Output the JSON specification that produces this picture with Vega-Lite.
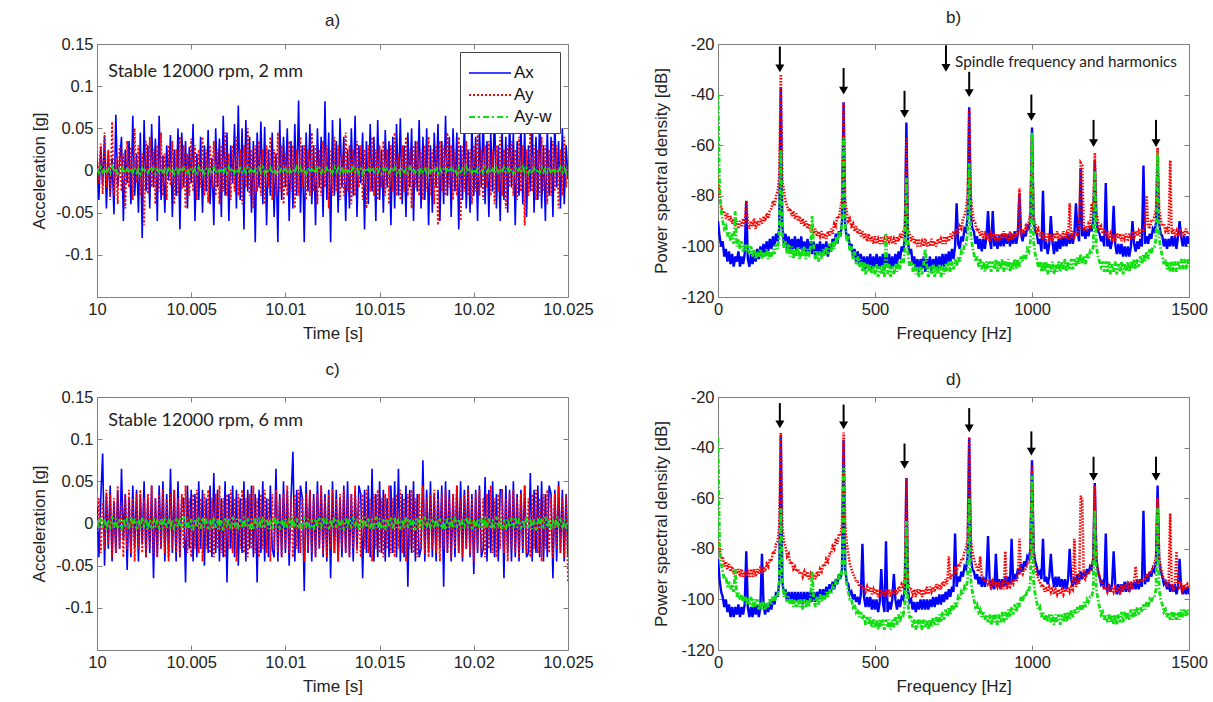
{
"$schema":"https://vega.github.io/schema/vega-lite/v6.json",
"background":"white",
"padding":{"left":29,"top":8,"right":10,"bottom":5},
"config":{
"font":"Liberation Sans",
"view":{"stroke":"#7f7f7f","strokeWidth":1},
"axis":{"grid":false,"domain":false,"tickSize":-5,"tickColor":"#7f7f7f","tickWidth":1,"labelFontSize":16.5,"labelColor":"#222","labelPadding":9,"titleFontSize":17,"titleFontWeight":"normal","titleColor":"#222","labelFont":"Liberation Sans","titleFont":"Liberation Sans","labelFlush":false},
"title":{"fontSize":17,"fontWeight":"normal","font":"Liberation Sans","color":"#222"}
},
"datasets":{
"ta":[
{"t":10.0000,"ax":0.012,"ay":0.02,"ayw":0.002},{"t":10.0001,"ax":-0.035,"ay":-0.015,"ayw":-0.003},{"t":10.0002,"ax":0.028,"ay":0.032,"ayw":0.004},{"t":10.0003,"ax":-0.018,"ay":-0.028,"ayw":-0.002},{"t":10.0004,"ax":0.04,"ay":0.045,"ayw":0.003},{"t":10.0005,"ax":-0.045,"ay":-0.02,"ayw":-0.004},{"t":10.0006,"ax":0.022,"ay":0.025,"ayw":0.002},{"t":10.0007,"ax":-0.03,"ay":-0.035,"ayw":-0.003},{"t":10.0008,"ax":0.015,"ay":0.058,"ayw":0.005},{"t":10.0009,"ax":-0.052,"ay":-0.03,"ayw":-0.002},
{"t":10.0010,"ax":0.066,"ay":0.015,"ayw":0.003},{"t":10.0011,"ax":-0.02,"ay":-0.04,"ayw":-0.004},{"t":10.0012,"ax":0.01,"ay":0.03,"ayw":0.002},{"t":10.0013,"ax":0.04,"ay":-0.025,"ayw":-0.002},{"t":10.0014,"ax":-0.06,"ay":0.02,"ayw":0.004},{"t":10.0015,"ax":0.025,"ay":-0.045,"ayw":-0.003},{"t":10.0016,"ax":-0.015,"ay":0.035,"ayw":0.002},{"t":10.0017,"ax":0.035,"ay":-0.02,"ayw":-0.003},{"t":10.0018,"ax":-0.04,"ay":0.028,"ayw":0.003},{"t":10.0019,"ax":0.065,"ay":-0.035,"ayw":-0.002},
{"t":10.0020,"ax":-0.03,"ay":0.05,"ayw":0.004},{"t":10.0021,"ax":0.02,"ay":-0.015,"ayw":-0.003},{"t":10.0022,"ax":-0.05,"ay":0.03,"ayw":0.002},{"t":10.0023,"ax":0.045,"ay":-0.03,"ayw":-0.004},{"t":10.0024,"ax":-0.08,"ay":0.02,"ayw":0.003},{"t":10.0025,"ax":0.06,"ay":-0.065,"ayw":-0.002},{"t":10.0026,"ax":-0.025,"ay":0.035,"ayw":0.002},{"t":10.0027,"ax":0.03,"ay":-0.028,"ayw":-0.003},{"t":10.0028,"ax":-0.045,"ay":0.04,"ayw":0.004},{"t":10.0029,"ax":0.055,"ay":-0.02,"ayw":-0.002},
{"t":10.0030,"ax":-0.02,"ay":0.025,"ayw":0.003},{"t":10.0031,"ax":0.038,"ay":-0.04,"ayw":-0.004},{"t":10.0032,"ax":-0.06,"ay":0.03,"ayw":0.002},{"t":10.0033,"ax":0.065,"ay":-0.025,"ayw":-0.003},{"t":10.0034,"ax":-0.035,"ay":0.045,"ayw":0.003},{"t":10.0035,"ax":0.018,"ay":-0.03,"ayw":-0.002},{"t":10.0036,"ax":-0.05,"ay":0.02,"ayw":0.004},{"t":10.0037,"ax":0.03,"ay":-0.035,"ayw":-0.003},{"t":10.0038,"ax":-0.012,"ay":0.03,"ayw":0.002},{"t":10.0039,"ax":0.042,"ay":-0.018,"ayw":-0.002},
{"t":10.0040,"ax":-0.055,"ay":0.035,"ayw":0.003},{"t":10.0041,"ax":0.025,"ay":-0.04,"ayw":-0.004},{"t":10.0042,"ax":-0.03,"ay":0.025,"ayw":0.002},{"t":10.0043,"ax":0.05,"ay":-0.03,"ayw":-0.003},{"t":10.0044,"ax":-0.07,"ay":0.04,"ayw":0.004},{"t":10.0045,"ax":0.045,"ay":-0.022,"ayw":-0.002},{"t":10.0046,"ax":-0.02,"ay":0.03,"ayw":0.003},{"t":10.0047,"ax":0.035,"ay":-0.045,"ayw":-0.003},{"t":10.0048,"ax":-0.045,"ay":0.02,"ayw":0.002},{"t":10.0049,"ax":0.028,"ay":-0.03,"ayw":-0.004},
{"t":10.0050,"ax":-0.015,"ay":0.038,"ayw":0.003},{"t":10.0051,"ax":0.055,"ay":-0.025,"ayw":-0.002},{"t":10.0052,"ax":-0.06,"ay":0.03,"ayw":0.002},{"t":10.0053,"ax":0.02,"ay":-0.035,"ayw":-0.003},{"t":10.0054,"ax":-0.035,"ay":0.025,"ayw":0.004},{"t":10.0055,"ax":0.04,"ay":-0.02,"ayw":-0.002},{"t":10.0056,"ax":-0.05,"ay":0.04,"ayw":0.003},{"t":10.0057,"ax":0.03,"ay":-0.03,"ayw":-0.004},{"t":10.0058,"ax":-0.025,"ay":0.025,"ayw":0.002},{"t":10.0059,"ax":0.048,"ay":-0.038,"ayw":-0.003},
{"t":10.0060,"ax":-0.04,"ay":0.03,"ayw":0.003},{"t":10.0061,"ax":0.015,"ay":-0.02,"ayw":-0.002},{"t":10.0062,"ax":-0.065,"ay":0.035,"ayw":0.004},{"t":10.0063,"ax":0.05,"ay":-0.03,"ayw":-0.003},{"t":10.0064,"ax":-0.02,"ay":0.025,"ayw":0.002},{"t":10.0065,"ax":0.038,"ay":-0.04,"ayw":-0.002},{"t":10.0066,"ax":-0.055,"ay":0.03,"ayw":0.003},{"t":10.0067,"ax":0.065,"ay":-0.025,"ayw":-0.004},{"t":10.0068,"ax":-0.03,"ay":0.045,"ayw":0.002},{"t":10.0069,"ax":0.045,"ay":-0.03,"ayw":-0.003},
{"t":10.0070,"ax":-0.06,"ay":0.02,"ayw":0.004},{"t":10.0071,"ax":0.03,"ay":-0.035,"ayw":-0.002},{"t":10.0072,"ax":-0.015,"ay":0.03,"ayw":0.003},{"t":10.0073,"ax":0.055,"ay":-0.025,"ayw":-0.003},{"t":10.0074,"ax":-0.045,"ay":0.04,"ayw":0.002},{"t":10.0075,"ax":0.077,"ay":-0.03,"ayw":-0.004},{"t":10.0076,"ax":-0.035,"ay":0.025,"ayw":0.003},{"t":10.0077,"ax":0.05,"ay":-0.04,"ayw":-0.002},{"t":10.0078,"ax":-0.07,"ay":0.03,"ayw":0.002},{"t":10.0079,"ax":0.06,"ay":-0.02,"ayw":-0.003},
{"t":10.0080,"ax":-0.025,"ay":0.05,"ayw":0.004},{"t":10.0081,"ax":0.04,"ay":-0.03,"ayw":-0.002},{"t":10.0082,"ax":-0.05,"ay":0.025,"ayw":0.003},{"t":10.0083,"ax":0.035,"ay":-0.045,"ayw":-0.004},{"t":10.0084,"ax":-0.085,"ay":0.03,"ayw":0.002},{"t":10.0085,"ax":0.045,"ay":-0.025,"ayw":-0.003},{"t":10.0086,"ax":-0.02,"ay":0.035,"ayw":0.003},{"t":10.0087,"ax":0.058,"ay":-0.03,"ayw":-0.002},{"t":10.0088,"ax":-0.04,"ay":0.025,"ayw":0.004},{"t":10.0089,"ax":0.052,"ay":-0.04,"ayw":-0.003},
{"t":10.0090,"ax":-0.065,"ay":0.03,"ayw":0.002},{"t":10.0091,"ax":0.025,"ay":-0.02,"ayw":-0.002},{"t":10.0092,"ax":-0.03,"ay":0.04,"ayw":0.003},{"t":10.0093,"ax":0.045,"ay":-0.035,"ayw":-0.004},{"t":10.0094,"ax":-0.055,"ay":0.025,"ayw":0.002},{"t":10.0095,"ax":0.02,"ay":-0.03,"ayw":-0.003},{"t":10.0096,"ax":-0.085,"ay":0.045,"ayw":0.004},{"t":10.0097,"ax":0.06,"ay":-0.025,"ayw":-0.002},{"t":10.0098,"ax":-0.035,"ay":0.03,"ayw":0.003},{"t":10.0099,"ax":0.04,"ay":-0.04,"ayw":-0.003},
{"t":10.0100,"ax":-0.02,"ay":0.02,"ayw":0.002},{"t":10.0101,"ax":0.05,"ay":-0.03,"ayw":-0.004},{"t":10.0102,"ax":-0.06,"ay":0.035,"ayw":0.003},{"t":10.0103,"ax":0.035,"ay":-0.025,"ayw":-0.002},{"t":10.0104,"ax":-0.045,"ay":0.03,"ayw":0.002},{"t":10.0105,"ax":0.055,"ay":-0.045,"ayw":-0.003},{"t":10.0106,"ax":-0.03,"ay":0.025,"ayw":0.004},{"t":10.0107,"ax":0.083,"ay":-0.03,"ayw":-0.002},{"t":10.0108,"ax":-0.05,"ay":0.04,"ayw":0.003},{"t":10.0109,"ax":0.03,"ay":-0.02,"ayw":-0.003},
{"t":10.0110,"ax":-0.085,"ay":0.03,"ayw":0.002},{"t":10.0111,"ax":0.045,"ay":-0.035,"ayw":-0.004},{"t":10.0112,"ax":-0.025,"ay":0.025,"ayw":0.003},{"t":10.0113,"ax":0.055,"ay":-0.03,"ayw":-0.002},{"t":10.0114,"ax":-0.04,"ay":0.045,"ayw":0.002},{"t":10.0115,"ax":0.03,"ay":-0.025,"ayw":-0.003},{"t":10.0116,"ax":-0.065,"ay":0.03,"ayw":0.004},{"t":10.0117,"ax":0.05,"ay":-0.04,"ayw":-0.002},{"t":10.0118,"ax":-0.02,"ay":0.025,"ayw":0.003},{"t":10.0119,"ax":0.04,"ay":-0.03,"ayw":-0.003},
{"t":10.0120,"ax":-0.055,"ay":0.035,"ayw":0.002},{"t":10.0121,"ax":0.082,"ay":-0.02,"ayw":-0.004},{"t":10.0122,"ax":-0.035,"ay":0.03,"ayw":0.003},{"t":10.0123,"ax":0.045,"ay":-0.045,"ayw":-0.002},{"t":10.0124,"ax":-0.085,"ay":0.025,"ayw":0.002},{"t":10.0125,"ax":0.06,"ay":-0.03,"ayw":-0.003},{"t":10.0126,"ax":-0.03,"ay":0.04,"ayw":0.004},{"t":10.0127,"ax":0.035,"ay":-0.025,"ayw":-0.002},{"t":10.0128,"ax":-0.05,"ay":0.03,"ayw":0.003},{"t":10.0129,"ax":0.062,"ay":-0.035,"ayw":-0.003},
{"t":10.0130,"ax":-0.02,"ay":0.02,"ayw":0.002},{"t":10.0131,"ax":0.04,"ay":-0.03,"ayw":-0.004},{"t":10.0132,"ax":-0.06,"ay":0.045,"ayw":0.003},{"t":10.0133,"ax":0.025,"ay":-0.025,"ayw":-0.002},{"t":10.0134,"ax":-0.045,"ay":0.03,"ayw":0.002},{"t":10.0135,"ax":0.05,"ay":-0.04,"ayw":-0.003},{"t":10.0136,"ax":-0.03,"ay":0.025,"ayw":0.004},{"t":10.0137,"ax":0.065,"ay":-0.03,"ayw":-0.002},{"t":10.0138,"ax":-0.055,"ay":0.035,"ayw":0.003},{"t":10.0139,"ax":0.03,"ay":-0.02,"ayw":-0.003},
{"t":10.0140,"ax":-0.015,"ay":0.03,"ayw":0.002},{"t":10.0141,"ax":0.045,"ay":-0.035,"ayw":-0.004},{"t":10.0142,"ax":-0.07,"ay":0.025,"ayw":0.003},{"t":10.0143,"ax":0.035,"ay":-0.045,"ayw":-0.002},{"t":10.0144,"ax":-0.04,"ay":0.03,"ayw":0.002},{"t":10.0145,"ax":0.055,"ay":-0.025,"ayw":-0.003},{"t":10.0146,"ax":-0.025,"ay":0.04,"ayw":0.004},{"t":10.0147,"ax":0.04,"ay":-0.03,"ayw":-0.002},{"t":10.0148,"ax":-0.06,"ay":0.025,"ayw":0.003},{"t":10.0149,"ax":0.06,"ay":-0.035,"ayw":-0.003},
{"t":10.0150,"ax":-0.035,"ay":0.03,"ayw":0.002},{"t":10.0151,"ax":0.025,"ay":-0.02,"ayw":-0.004},{"t":10.0152,"ax":-0.05,"ay":0.035,"ayw":0.003},{"t":10.0153,"ax":0.048,"ay":-0.03,"ayw":-0.002},{"t":10.0154,"ax":-0.02,"ay":0.025,"ayw":0.002},{"t":10.0155,"ax":0.035,"ay":-0.04,"ayw":-0.003},{"t":10.0156,"ax":-0.065,"ay":0.03,"ayw":0.004},{"t":10.0157,"ax":0.04,"ay":-0.025,"ayw":-0.002},{"t":10.0158,"ax":-0.045,"ay":0.045,"ayw":0.003},{"t":10.0159,"ax":0.055,"ay":-0.03,"ayw":-0.003},
{"t":10.0160,"ax":-0.03,"ay":0.02,"ayw":0.002},{"t":10.0161,"ax":0.062,"ay":-0.035,"ayw":-0.004},{"t":10.0162,"ax":-0.04,"ay":0.03,"ayw":0.003},{"t":10.0163,"ax":0.03,"ay":-0.025,"ayw":-0.002},{"t":10.0164,"ax":-0.055,"ay":0.04,"ayw":0.002},{"t":10.0165,"ax":0.045,"ay":-0.03,"ayw":-0.003},{"t":10.0166,"ax":-0.02,"ay":0.025,"ayw":0.004},{"t":10.0167,"ax":0.05,"ay":-0.045,"ayw":-0.002},{"t":10.0168,"ax":-0.06,"ay":0.03,"ayw":0.003},{"t":10.0169,"ax":0.035,"ay":-0.02,"ayw":-0.003},
{"t":10.0170,"ax":-0.025,"ay":0.035,"ayw":0.002},{"t":10.0171,"ax":0.06,"ay":-0.03,"ayw":-0.004},{"t":10.0172,"ax":-0.045,"ay":0.025,"ayw":0.003},{"t":10.0173,"ax":0.04,"ay":-0.035,"ayw":-0.002},{"t":10.0174,"ax":-0.035,"ay":0.03,"ayw":0.002},{"t":10.0175,"ax":0.05,"ay":-0.025,"ayw":-0.003},{"t":10.0176,"ax":-0.065,"ay":0.04,"ayw":0.004},{"t":10.0177,"ax":0.03,"ay":-0.03,"ayw":-0.002},{"t":10.0178,"ax":-0.05,"ay":0.025,"ayw":0.003},{"t":10.0179,"ax":0.045,"ay":-0.04,"ayw":-0.003},
{"t":10.0180,"ax":-0.02,"ay":0.03,"ayw":0.002},{"t":10.0181,"ax":0.055,"ay":-0.065,"ayw":-0.004},{"t":10.0182,"ax":-0.06,"ay":0.035,"ayw":0.003},{"t":10.0183,"ax":0.035,"ay":-0.025,"ayw":-0.002},{"t":10.0184,"ax":-0.04,"ay":0.03,"ayw":0.002},{"t":10.0185,"ax":0.065,"ay":-0.03,"ayw":-0.003},{"t":10.0186,"ax":-0.03,"ay":0.045,"ayw":0.004},{"t":10.0187,"ax":0.04,"ay":-0.02,"ayw":-0.002},{"t":10.0188,"ax":-0.055,"ay":0.03,"ayw":0.003},{"t":10.0189,"ax":0.05,"ay":-0.035,"ayw":-0.003},
{"t":10.0190,"ax":-0.025,"ay":0.025,"ayw":0.002},{"t":10.0191,"ax":0.045,"ay":-0.03,"ayw":-0.004},{"t":10.0192,"ax":-0.07,"ay":0.04,"ayw":0.003},{"t":10.0193,"ax":0.03,"ay":-0.06,"ayw":-0.002},{"t":10.0194,"ax":-0.035,"ay":0.03,"ayw":0.002},{"t":10.0195,"ax":0.06,"ay":-0.025,"ayw":-0.003},{"t":10.0196,"ax":-0.045,"ay":0.035,"ayw":0.004},{"t":10.0197,"ax":0.025,"ay":-0.03,"ayw":-0.002},{"t":10.0198,"ax":-0.05,"ay":0.025,"ayw":0.003},{"t":10.0199,"ax":0.055,"ay":-0.04,"ayw":-0.003},
{"t":10.0200,"ax":-0.03,"ay":0.03,"ayw":0.002},{"t":10.0201,"ax":0.04,"ay":-0.025,"ayw":-0.004},{"t":10.0202,"ax":-0.06,"ay":0.045,"ayw":0.003},{"t":10.0203,"ax":0.05,"ay":-0.03,"ayw":-0.002},{"t":10.0204,"ax":-0.02,"ay":0.025,"ayw":0.002},{"t":10.0205,"ax":0.065,"ay":-0.035,"ayw":-0.003},{"t":10.0206,"ax":-0.04,"ay":0.03,"ayw":0.004},{"t":10.0207,"ax":0.035,"ay":-0.02,"ayw":-0.002},{"t":10.0208,"ax":-0.055,"ay":0.035,"ayw":0.003},{"t":10.0209,"ax":0.045,"ay":-0.03,"ayw":-0.003},
{"t":10.0210,"ax":-0.025,"ay":0.025,"ayw":0.002},{"t":10.0211,"ax":0.075,"ay":-0.04,"ayw":-0.004},{"t":10.0212,"ax":-0.045,"ay":0.03,"ayw":0.003},{"t":10.0213,"ax":0.03,"ay":-0.025,"ayw":-0.002},{"t":10.0214,"ax":-0.06,"ay":0.04,"ayw":0.002},{"t":10.0215,"ax":0.05,"ay":-0.03,"ayw":-0.003},{"t":10.0216,"ax":-0.035,"ay":0.025,"ayw":0.004},{"t":10.0217,"ax":0.04,"ay":-0.045,"ayw":-0.002},{"t":10.0218,"ax":-0.05,"ay":0.03,"ayw":0.003},{"t":10.0219,"ax":0.06,"ay":-0.02,"ayw":-0.003},
{"t":10.0220,"ax":-0.02,"ay":0.035,"ayw":0.002},{"t":10.0221,"ax":0.045,"ay":-0.03,"ayw":-0.004},{"t":10.0222,"ax":-0.065,"ay":0.025,"ayw":0.003},{"t":10.0223,"ax":0.035,"ay":-0.035,"ayw":-0.002},{"t":10.0224,"ax":-0.03,"ay":0.04,"ayw":0.002},{"t":10.0225,"ax":0.055,"ay":-0.025,"ayw":-0.003},{"t":10.0226,"ax":-0.04,"ay":0.03,"ayw":0.004},{"t":10.0227,"ax":0.05,"ay":-0.065,"ayw":-0.002},{"t":10.0228,"ax":-0.055,"ay":0.025,"ayw":0.003},{"t":10.0229,"ax":0.03,"ay":-0.03,"ayw":-0.003},
{"t":10.0230,"ax":-0.025,"ay":0.045,"ayw":0.002},{"t":10.0231,"ax":0.062,"ay":-0.025,"ayw":-0.004},{"t":10.0232,"ax":-0.05,"ay":0.03,"ayw":0.003},{"t":10.0233,"ax":0.04,"ay":-0.035,"ayw":-0.002},{"t":10.0234,"ax":-0.035,"ay":0.025,"ayw":0.002},{"t":10.0235,"ax":0.065,"ay":-0.03,"ayw":-0.003},{"t":10.0236,"ax":-0.045,"ay":0.04,"ayw":0.004},{"t":10.0237,"ax":0.03,"ay":-0.025,"ayw":-0.002},{"t":10.0238,"ax":-0.06,"ay":0.03,"ayw":0.003},{"t":10.0239,"ax":0.05,"ay":-0.04,"ayw":-0.003},
{"t":10.0240,"ax":-0.03,"ay":0.025,"ayw":0.002},{"t":10.0241,"ax":0.04,"ay":-0.03,"ayw":-0.004},{"t":10.0242,"ax":-0.055,"ay":0.035,"ayw":0.003},{"t":10.0243,"ax":0.058,"ay":-0.025,"ayw":-0.002},{"t":10.0244,"ax":-0.02,"ay":0.03,"ayw":0.002},{"t":10.0245,"ax":0.035,"ay":-0.045,"ayw":-0.003},{"t":10.0246,"ax":-0.045,"ay":0.025,"ayw":0.004},{"t":10.0247,"ax":0.05,"ay":-0.03,"ayw":-0.002},{"t":10.0248,"ax":-0.04,"ay":0.04,"ayw":0.003},{"t":10.0249,"ax":0.03,"ay":-0.02,"ayw":-0.003},
{"t":10.0250,"ax":-0.01,"ay":0.01,"ayw":0.001}
],
"tc":[
{"t":10.0000,"ax":0.02,"ay":-0.01,"ayw":0.004},{"t":10.0001,"ax":-0.04,"ay":0.03,"ayw":-0.006},{"t":10.0002,"ax":0.03,"ay":-0.035,"ayw":0.008},{"t":10.0003,"ax":0.083,"ay":0.025,"ayw":-0.005},{"t":10.0004,"ax":-0.05,"ay":-0.03,"ayw":0.006},{"t":10.0005,"ax":0.035,"ay":0.04,"ayw":-0.008},{"t":10.0006,"ax":-0.03,"ay":-0.025,"ayw":0.005},{"t":10.0007,"ax":0.045,"ay":0.035,"ayw":-0.006},{"t":10.0008,"ax":-0.045,"ay":-0.04,"ayw":0.009},{"t":10.0009,"ax":0.025,"ay":0.03,"ayw":-0.005},
{"t":10.0010,"ax":-0.035,"ay":-0.035,"ayw":0.006},{"t":10.0011,"ax":0.04,"ay":0.045,"ayw":-0.007},{"t":10.0012,"ax":-0.03,"ay":-0.03,"ayw":0.005},{"t":10.0013,"ax":0.065,"ay":0.025,"ayw":-0.008},{"t":10.0014,"ax":-0.02,"ay":-0.04,"ayw":0.006},{"t":10.0015,"ax":0.035,"ay":0.035,"ayw":-0.005},{"t":10.0016,"ax":-0.055,"ay":-0.03,"ayw":0.007},{"t":10.0017,"ax":0.03,"ay":0.04,"ayw":-0.006},{"t":10.0018,"ax":-0.04,"ay":-0.035,"ayw":0.008},{"t":10.0019,"ax":0.045,"ay":0.03,"ayw":-0.005},
{"t":10.0020,"ax":-0.03,"ay":-0.045,"ayw":0.006},{"t":10.0021,"ax":0.04,"ay":0.035,"ayw":-0.007},{"t":10.0022,"ax":-0.045,"ay":-0.03,"ayw":0.005},{"t":10.0023,"ax":0.035,"ay":0.04,"ayw":-0.006},{"t":10.0024,"ax":-0.025,"ay":-0.035,"ayw":0.008},{"t":10.0025,"ax":0.05,"ay":0.03,"ayw":-0.005},{"t":10.0026,"ax":-0.04,"ay":-0.04,"ayw":0.006},{"t":10.0027,"ax":0.03,"ay":0.035,"ayw":-0.008},{"t":10.0028,"ax":-0.035,"ay":-0.03,"ayw":0.005},{"t":10.0029,"ax":0.045,"ay":0.045,"ayw":-0.006},
{"t":10.0030,"ax":-0.065,"ay":-0.035,"ayw":0.007},{"t":10.0031,"ax":0.03,"ay":0.03,"ayw":-0.005},{"t":10.0032,"ax":-0.04,"ay":-0.04,"ayw":0.006},{"t":10.0033,"ax":0.045,"ay":0.035,"ayw":-0.007},{"t":10.0034,"ax":-0.03,"ay":-0.03,"ayw":0.005},{"t":10.0035,"ax":0.05,"ay":0.04,"ayw":-0.006},{"t":10.0036,"ax":-0.045,"ay":-0.035,"ayw":0.008},{"t":10.0037,"ax":0.035,"ay":0.03,"ayw":-0.005},{"t":10.0038,"ax":-0.04,"ay":-0.045,"ayw":0.006},{"t":10.0039,"ax":0.065,"ay":0.035,"ayw":-0.007},
{"t":10.0040,"ax":-0.035,"ay":-0.03,"ayw":0.005},{"t":10.0041,"ax":0.04,"ay":0.04,"ayw":-0.008},{"t":10.0042,"ax":-0.045,"ay":-0.035,"ayw":0.006},{"t":10.0043,"ax":0.05,"ay":0.03,"ayw":-0.005},{"t":10.0044,"ax":-0.04,"ay":-0.04,"ayw":0.007},{"t":10.0045,"ax":0.03,"ay":0.035,"ayw":-0.006},{"t":10.0046,"ax":0.03,"ay":-0.03,"ayw":0.008},{"t":10.0047,"ax":-0.07,"ay":0.045,"ayw":-0.005},{"t":10.0048,"ax":0.045,"ay":-0.035,"ayw":0.006},{"t":10.0049,"ax":-0.03,"ay":0.03,"ayw":-0.007},
{"t":10.0050,"ax":0.04,"ay":-0.04,"ayw":0.005},{"t":10.0051,"ax":-0.045,"ay":0.035,"ayw":-0.008},{"t":10.0052,"ax":0.035,"ay":-0.03,"ayw":0.006},{"t":10.0053,"ax":-0.04,"ay":0.04,"ayw":-0.005},{"t":10.0054,"ax":0.05,"ay":-0.035,"ayw":0.007},{"t":10.0055,"ax":-0.03,"ay":0.03,"ayw":-0.006},{"t":10.0056,"ax":0.04,"ay":-0.045,"ayw":0.008},{"t":10.0057,"ax":-0.05,"ay":0.035,"ayw":-0.005},{"t":10.0058,"ax":0.03,"ay":-0.03,"ayw":0.006},{"t":10.0059,"ax":-0.035,"ay":0.04,"ayw":-0.007},
{"t":10.0060,"ax":0.045,"ay":-0.035,"ayw":0.005},{"t":10.0061,"ax":-0.04,"ay":0.03,"ayw":-0.006},{"t":10.0062,"ax":0.06,"ay":-0.04,"ayw":0.008},{"t":10.0063,"ax":-0.035,"ay":0.035,"ayw":-0.005},{"t":10.0064,"ax":0.04,"ay":-0.03,"ayw":0.006},{"t":10.0065,"ax":-0.045,"ay":0.045,"ayw":-0.007},{"t":10.0066,"ax":0.03,"ay":-0.035,"ayw":0.005},{"t":10.0067,"ax":-0.04,"ay":0.03,"ayw":-0.008},{"t":10.0068,"ax":0.05,"ay":-0.04,"ayw":0.006},{"t":10.0069,"ax":-0.07,"ay":0.035,"ayw":-0.005},
{"t":10.0070,"ax":0.035,"ay":-0.03,"ayw":0.007},{"t":10.0071,"ax":-0.03,"ay":0.04,"ayw":-0.006},{"t":10.0072,"ax":0.045,"ay":-0.035,"ayw":0.008},{"t":10.0073,"ax":-0.04,"ay":0.03,"ayw":-0.005},{"t":10.0074,"ax":0.04,"ay":-0.045,"ayw":0.006},{"t":10.0075,"ax":-0.05,"ay":0.035,"ayw":-0.007},{"t":10.0076,"ax":0.03,"ay":-0.03,"ayw":0.005},{"t":10.0077,"ax":-0.035,"ay":0.04,"ayw":-0.006},{"t":10.0078,"ax":0.05,"ay":-0.035,"ayw":0.008},{"t":10.0079,"ax":-0.045,"ay":0.03,"ayw":-0.005},
{"t":10.0080,"ax":0.04,"ay":-0.04,"ayw":0.006},{"t":10.0081,"ax":-0.03,"ay":0.035,"ayw":-0.007},{"t":10.0082,"ax":0.045,"ay":-0.03,"ayw":0.005},{"t":10.0083,"ax":-0.04,"ay":0.045,"ayw":-0.008},{"t":10.0084,"ax":0.035,"ay":-0.035,"ayw":0.006},{"t":10.0085,"ax":-0.07,"ay":0.03,"ayw":-0.005},{"t":10.0086,"ax":0.04,"ay":-0.04,"ayw":0.007},{"t":10.0087,"ax":-0.035,"ay":0.035,"ayw":-0.006},{"t":10.0088,"ax":0.05,"ay":-0.03,"ayw":0.008},{"t":10.0089,"ax":-0.045,"ay":0.04,"ayw":-0.005},
{"t":10.0090,"ax":0.03,"ay":-0.035,"ayw":0.006},{"t":10.0091,"ax":-0.04,"ay":0.03,"ayw":-0.007},{"t":10.0092,"ax":0.045,"ay":-0.045,"ayw":0.005},{"t":10.0093,"ax":-0.03,"ay":0.035,"ayw":-0.006},{"t":10.0094,"ax":-0.04,"ay":-0.03,"ayw":0.008},{"t":10.0095,"ax":0.065,"ay":0.04,"ayw":-0.005},{"t":10.0096,"ax":-0.045,"ay":-0.035,"ayw":0.006},{"t":10.0097,"ax":0.035,"ay":0.03,"ayw":-0.007},{"t":10.0098,"ax":-0.04,"ay":-0.04,"ayw":0.005},{"t":10.0099,"ax":0.05,"ay":0.035,"ayw":-0.008},
{"t":10.0100,"ax":-0.035,"ay":-0.03,"ayw":0.006},{"t":10.0101,"ax":0.04,"ay":0.045,"ayw":-0.005},{"t":10.0102,"ax":-0.05,"ay":-0.035,"ayw":0.007},{"t":10.0103,"ax":0.03,"ay":0.03,"ayw":-0.006},{"t":10.0104,"ax":0.085,"ay":-0.04,"ayw":0.008},{"t":10.0105,"ax":-0.045,"ay":0.035,"ayw":-0.005},{"t":10.0106,"ax":0.04,"ay":-0.03,"ayw":0.006},{"t":10.0107,"ax":-0.035,"ay":0.04,"ayw":-0.007},{"t":10.0108,"ax":0.045,"ay":-0.035,"ayw":0.005},{"t":10.0109,"ax":0.03,"ay":0.03,"ayw":-0.006},
{"t":10.0110,"ax":-0.08,"ay":-0.045,"ayw":0.008},{"t":10.0111,"ax":0.05,"ay":0.035,"ayw":-0.005},{"t":10.0112,"ax":-0.035,"ay":-0.03,"ayw":0.006},{"t":10.0113,"ax":0.04,"ay":0.04,"ayw":-0.007},{"t":10.0114,"ax":-0.045,"ay":-0.035,"ayw":0.005},{"t":10.0115,"ax":0.035,"ay":0.03,"ayw":-0.008},{"t":10.0116,"ax":-0.04,"ay":-0.04,"ayw":0.006},{"t":10.0117,"ax":0.05,"ay":0.035,"ayw":-0.005},{"t":10.0118,"ax":-0.03,"ay":-0.03,"ayw":0.007},{"t":10.0119,"ax":0.045,"ay":0.045,"ayw":-0.006},
{"t":10.0120,"ax":-0.04,"ay":-0.035,"ayw":0.008},{"t":10.0121,"ax":0.035,"ay":0.03,"ayw":-0.005},{"t":10.0122,"ax":-0.045,"ay":-0.04,"ayw":0.006},{"t":10.0123,"ax":0.04,"ay":0.035,"ayw":-0.007},{"t":10.0124,"ax":-0.065,"ay":-0.03,"ayw":0.005},{"t":10.0125,"ax":0.05,"ay":0.04,"ayw":-0.006},{"t":10.0126,"ax":-0.035,"ay":-0.035,"ayw":0.008},{"t":10.0127,"ax":0.04,"ay":0.03,"ayw":-0.005},{"t":10.0128,"ax":-0.045,"ay":-0.045,"ayw":0.006},{"t":10.0129,"ax":0.03,"ay":0.035,"ayw":-0.007},
{"t":10.0130,"ax":-0.04,"ay":-0.03,"ayw":0.005},{"t":10.0131,"ax":0.045,"ay":0.04,"ayw":-0.008},{"t":10.0132,"ax":-0.035,"ay":-0.035,"ayw":0.006},{"t":10.0133,"ax":0.05,"ay":0.03,"ayw":-0.005},{"t":10.0134,"ax":-0.04,"ay":-0.04,"ayw":0.007},{"t":10.0135,"ax":0.035,"ay":0.035,"ayw":-0.006},{"t":10.0136,"ax":-0.045,"ay":-0.03,"ayw":0.008},{"t":10.0137,"ax":0.04,"ay":0.045,"ayw":-0.005},{"t":10.0138,"ax":-0.03,"ay":-0.035,"ayw":0.006},{"t":10.0139,"ax":0.045,"ay":0.03,"ayw":-0.007},
{"t":10.0140,"ax":0.035,"ay":-0.04,"ayw":0.005},{"t":10.0141,"ax":-0.065,"ay":0.035,"ayw":-0.006},{"t":10.0142,"ax":0.04,"ay":-0.03,"ayw":0.008},{"t":10.0143,"ax":-0.035,"ay":0.04,"ayw":-0.005},{"t":10.0144,"ax":0.045,"ay":-0.035,"ayw":0.006},{"t":10.0145,"ax":-0.04,"ay":0.03,"ayw":-0.007},{"t":10.0146,"ax":0.065,"ay":-0.045,"ayw":0.005},{"t":10.0147,"ax":-0.045,"ay":0.035,"ayw":-0.006},{"t":10.0148,"ax":0.035,"ay":-0.03,"ayw":0.008},{"t":10.0149,"ax":-0.04,"ay":0.04,"ayw":-0.005},
{"t":10.0150,"ax":0.05,"ay":-0.035,"ayw":0.006},{"t":10.0151,"ax":-0.035,"ay":0.03,"ayw":-0.007},{"t":10.0152,"ax":0.04,"ay":-0.04,"ayw":0.005},{"t":10.0153,"ax":-0.045,"ay":0.035,"ayw":-0.008},{"t":10.0154,"ax":0.03,"ay":-0.03,"ayw":0.006},{"t":10.0155,"ax":-0.04,"ay":0.045,"ayw":-0.005},{"t":10.0156,"ax":0.045,"ay":-0.035,"ayw":0.007},{"t":10.0157,"ax":-0.035,"ay":0.03,"ayw":-0.006},{"t":10.0158,"ax":0.05,"ay":-0.04,"ayw":0.008},{"t":10.0159,"ax":-0.04,"ay":0.035,"ayw":-0.005},
{"t":10.0160,"ax":0.065,"ay":-0.03,"ayw":0.006},{"t":10.0161,"ax":-0.045,"ay":0.04,"ayw":-0.007},{"t":10.0162,"ax":0.035,"ay":-0.035,"ayw":0.005},{"t":10.0163,"ax":-0.04,"ay":0.03,"ayw":-0.006},{"t":10.0164,"ax":0.045,"ay":-0.045,"ayw":0.008},{"t":10.0165,"ax":-0.075,"ay":0.035,"ayw":-0.005},{"t":10.0166,"ax":0.04,"ay":-0.03,"ayw":0.006},{"t":10.0167,"ax":-0.035,"ay":0.04,"ayw":-0.007},{"t":10.0168,"ax":0.05,"ay":-0.035,"ayw":0.005},{"t":10.0169,"ax":-0.045,"ay":0.03,"ayw":-0.008},
{"t":10.0170,"ax":0.035,"ay":-0.04,"ayw":0.006},{"t":10.0171,"ax":-0.04,"ay":0.035,"ayw":-0.005},{"t":10.0172,"ax":-0.03,"ay":-0.03,"ayw":0.007},{"t":10.0173,"ax":0.075,"ay":0.045,"ayw":-0.006},{"t":10.0174,"ax":-0.045,"ay":-0.035,"ayw":0.008},{"t":10.0175,"ax":0.04,"ay":0.03,"ayw":-0.005},{"t":10.0176,"ax":-0.035,"ay":-0.04,"ayw":0.006},{"t":10.0177,"ax":0.05,"ay":0.035,"ayw":-0.007},{"t":10.0178,"ax":-0.04,"ay":-0.03,"ayw":0.005},{"t":10.0179,"ax":0.035,"ay":0.04,"ayw":-0.006},
{"t":10.0180,"ax":-0.045,"ay":-0.035,"ayw":0.008},{"t":10.0181,"ax":0.04,"ay":0.03,"ayw":-0.005},{"t":10.0182,"ax":-0.03,"ay":-0.045,"ayw":0.006},{"t":10.0183,"ax":0.045,"ay":0.035,"ayw":-0.007},{"t":10.0184,"ax":-0.075,"ay":-0.03,"ayw":0.005},{"t":10.0185,"ax":0.05,"ay":0.04,"ayw":-0.008},{"t":10.0186,"ax":-0.035,"ay":-0.035,"ayw":0.006},{"t":10.0187,"ax":0.04,"ay":0.03,"ayw":-0.005},{"t":10.0188,"ax":-0.045,"ay":-0.04,"ayw":0.007},{"t":10.0189,"ax":0.035,"ay":0.035,"ayw":-0.006},
{"t":10.0190,"ax":-0.04,"ay":-0.03,"ayw":0.008},{"t":10.0191,"ax":0.045,"ay":0.045,"ayw":-0.005},{"t":10.0192,"ax":-0.035,"ay":-0.035,"ayw":0.006},{"t":10.0193,"ax":0.05,"ay":0.03,"ayw":-0.007},{"t":10.0194,"ax":-0.045,"ay":-0.04,"ayw":0.005},{"t":10.0195,"ax":0.04,"ay":0.035,"ayw":-0.006},{"t":10.0196,"ax":-0.03,"ay":-0.03,"ayw":0.008},{"t":10.0197,"ax":0.045,"ay":0.04,"ayw":-0.005},{"t":10.0198,"ax":-0.04,"ay":-0.035,"ayw":0.006},{"t":10.0199,"ax":0.035,"ay":0.03,"ayw":-0.007},
{"t":10.0200,"ax":-0.06,"ay":-0.045,"ayw":0.005},{"t":10.0201,"ax":0.04,"ay":0.035,"ayw":-0.008},{"t":10.0202,"ax":-0.035,"ay":-0.03,"ayw":0.006},{"t":10.0203,"ax":0.045,"ay":0.04,"ayw":-0.005},{"t":10.0204,"ax":-0.04,"ay":-0.035,"ayw":0.007},{"t":10.0205,"ax":-0.03,"ay":0.03,"ayw":-0.006},{"t":10.0206,"ax":0.055,"ay":-0.04,"ayw":0.008},{"t":10.0207,"ax":-0.045,"ay":0.035,"ayw":-0.005},{"t":10.0208,"ax":0.04,"ay":-0.03,"ayw":0.006},{"t":10.0209,"ax":-0.035,"ay":0.045,"ayw":-0.007},
{"t":10.0210,"ax":0.05,"ay":-0.035,"ayw":0.005},{"t":10.0211,"ax":-0.04,"ay":0.03,"ayw":-0.006},{"t":10.0212,"ax":0.035,"ay":-0.04,"ayw":0.008},{"t":10.0213,"ax":-0.045,"ay":0.035,"ayw":-0.005},{"t":10.0214,"ax":0.04,"ay":-0.03,"ayw":0.006},{"t":10.0215,"ax":0.04,"ay":0.04,"ayw":-0.007},{"t":10.0216,"ax":-0.065,"ay":-0.035,"ayw":0.005},{"t":10.0217,"ax":0.045,"ay":0.03,"ayw":-0.008},{"t":10.0218,"ax":-0.035,"ay":-0.045,"ayw":0.006},{"t":10.0219,"ax":0.04,"ay":0.035,"ayw":-0.005},
{"t":10.0220,"ax":-0.045,"ay":-0.03,"ayw":0.007},{"t":10.0221,"ax":0.05,"ay":0.04,"ayw":-0.006},{"t":10.0222,"ax":-0.04,"ay":-0.035,"ayw":0.008},{"t":10.0223,"ax":0.035,"ay":0.03,"ayw":-0.005},{"t":10.0224,"ax":-0.045,"ay":-0.04,"ayw":0.006},{"t":10.0225,"ax":0.04,"ay":0.035,"ayw":-0.007},{"t":10.0226,"ax":-0.035,"ay":-0.03,"ayw":0.005},{"t":10.0227,"ax":0.045,"ay":0.045,"ayw":-0.006},{"t":10.0228,"ax":-0.04,"ay":-0.035,"ayw":0.008},{"t":10.0229,"ax":-0.035,"ay":0.03,"ayw":-0.005},
{"t":10.0230,"ax":0.06,"ay":-0.04,"ayw":0.006},{"t":10.0231,"ax":-0.045,"ay":0.035,"ayw":-0.007},{"t":10.0232,"ax":0.04,"ay":-0.03,"ayw":0.005},{"t":10.0233,"ax":-0.035,"ay":0.04,"ayw":-0.008},{"t":10.0234,"ax":0.045,"ay":-0.035,"ayw":0.006},{"t":10.0235,"ax":-0.04,"ay":0.03,"ayw":-0.005},{"t":10.0236,"ax":0.05,"ay":-0.045,"ayw":0.007},{"t":10.0237,"ax":-0.045,"ay":0.035,"ayw":-0.006},{"t":10.0238,"ax":0.035,"ay":-0.03,"ayw":0.008},{"t":10.0239,"ax":-0.04,"ay":0.04,"ayw":-0.005},
{"t":10.0240,"ax":0.045,"ay":-0.035,"ayw":0.006},{"t":10.0241,"ax":0.035,"ay":0.03,"ayw":-0.007},{"t":10.0242,"ax":-0.065,"ay":-0.04,"ayw":0.005},{"t":10.0243,"ax":0.04,"ay":0.035,"ayw":-0.006},{"t":10.0244,"ax":-0.045,"ay":-0.03,"ayw":0.008},{"t":10.0245,"ax":0.05,"ay":0.045,"ayw":-0.005},{"t":10.0246,"ax":-0.035,"ay":-0.035,"ayw":0.006},{"t":10.0247,"ax":0.04,"ay":0.03,"ayw":-0.007},{"t":10.0248,"ax":-0.045,"ay":-0.04,"ayw":0.005},{"t":10.0249,"ax":0.035,"ay":0.035,"ayw":-0.006},
{"t":10.0250,"ax":-0.04,"ay":-0.07,"ayw":0.004}
],
"sb":[
{"f":0,"ax":-90,"ay":-72,"ayw":-40},{"f":5,"ax":-96,"ay":-80,"ayw":-76},{"f":10,"ax":-100,"ay":-84,"ayw":-86},{"f":15,"ax":-98,"ay":-87,"ayw":-90},{"f":20,"ax":-104,"ay":-86,"ayw":-93},{"f":25,"ax":-101,"ay":-89,"ayw":-92},{"f":30,"ax":-106,"ay":-87,"ayw":-96},{"f":35,"ax":-102,"ay":-90,"ayw":-94},{"f":40,"ax":-107,"ay":-88,"ayw":-98},{"f":45,"ax":-103,"ay":-91,"ayw":-95},
{"f":50,"ax":-108,"ay":-89,"ayw":-99},{"f":55,"ax":-104,"ay":-92,"ayw":-86},{"f":60,"ax":-106,"ay":-90,"ayw":-100},{"f":65,"ax":-102,"ay":-93,"ayw":-97},{"f":70,"ax":-108,"ay":-90,"ayw":-101},{"f":75,"ax":-104,"ay":-92,"ayw":-98},{"f":80,"ax":-107,"ay":-89,"ayw":-102},{"f":85,"ax":-103,"ay":-92,"ayw":-99},{"f":90,"ax":-82,"ay":-82,"ayw":-101},{"f":95,"ax":-105,"ay":-91,"ayw":-100},
{"f":100,"ax":-108,"ay":-93,"ayw":-103},{"f":105,"ax":-103,"ay":-90,"ayw":-100},{"f":110,"ax":-107,"ay":-92,"ayw":-104},{"f":115,"ax":-102,"ay":-89,"ayw":-101},{"f":120,"ax":-106,"ay":-93,"ayw":-105},{"f":125,"ax":-101,"ay":-90,"ayw":-102},{"f":130,"ax":-105,"ay":-92,"ayw":-104},{"f":135,"ax":-100,"ay":-89,"ayw":-101},{"f":140,"ax":-104,"ay":-91,"ayw":-105},{"f":145,"ax":-99,"ay":-88,"ayw":-102},
{"f":150,"ax":-103,"ay":-90,"ayw":-104},{"f":155,"ax":-98,"ay":-87,"ayw":-101},{"f":160,"ax":-102,"ay":-89,"ayw":-105},{"f":165,"ax":-97,"ay":-86,"ayw":-102},{"f":170,"ax":-101,"ay":-85,"ayw":-104},{"f":175,"ax":-96,"ay":-82,"ayw":-101},{"f":180,"ax":-100,"ay":-84,"ayw":-103},{"f":185,"ax":-95,"ay":-80,"ayw":-99},{"f":190,"ax":-98,"ay":-78,"ayw":-101},{"f":195,"ax":-93,"ay":-73,"ayw":-96},
{"f":200,"ax":-37,"ay":-32,"ayw":-62},{"f":205,"ax":-92,"ay":-74,"ayw":-95},{"f":210,"ax":-99,"ay":-78,"ayw":-101},{"f":215,"ax":-95,"ay":-82,"ayw":-98},{"f":220,"ax":-101,"ay":-84,"ayw":-103},{"f":225,"ax":-96,"ay":-86,"ayw":-99},{"f":230,"ax":-102,"ay":-85,"ayw":-104},{"f":235,"ax":-97,"ay":-88,"ayw":-100},{"f":240,"ax":-101,"ay":-86,"ayw":-105},{"f":245,"ax":-96,"ay":-89,"ayw":-101},
{"f":250,"ax":-102,"ay":-87,"ayw":-104},{"f":255,"ax":-97,"ay":-90,"ayw":-100},{"f":260,"ax":-101,"ay":-88,"ayw":-105},{"f":265,"ax":-96,"ay":-91,"ayw":-101},{"f":270,"ax":-102,"ay":-89,"ayw":-104},{"f":275,"ax":-98,"ay":-92,"ayw":-100},{"f":280,"ax":-103,"ay":-90,"ayw":-105},{"f":285,"ax":-97,"ay":-93,"ayw":-101},{"f":290,"ax":-102,"ay":-91,"ayw":-104},{"f":295,"ax":-98,"ay":-94,"ayw":-100},
{"f":300,"ax":-103,"ay":-92,"ayw":-88},{"f":305,"ax":-98,"ay":-95,"ayw":-101},{"f":310,"ax":-104,"ay":-93,"ayw":-105},{"f":315,"ax":-99,"ay":-96,"ayw":-102},{"f":320,"ax":-103,"ay":-94,"ayw":-106},{"f":325,"ax":-98,"ay":-96,"ayw":-102},{"f":330,"ax":-104,"ay":-94,"ayw":-105},{"f":335,"ax":-99,"ay":-97,"ayw":-101},{"f":340,"ax":-103,"ay":-95,"ayw":-104},{"f":345,"ax":-98,"ay":-97,"ayw":-100},
{"f":350,"ax":-104,"ay":-94,"ayw":-103},{"f":355,"ax":-99,"ay":-96,"ayw":-99},{"f":360,"ax":-102,"ay":-93,"ayw":-102},{"f":365,"ax":-97,"ay":-95,"ayw":-98},{"f":370,"ax":-100,"ay":-91,"ayw":-101},{"f":375,"ax":-95,"ay":-92,"ayw":-96},{"f":380,"ax":-99,"ay":-88,"ayw":-99},{"f":385,"ax":-94,"ay":-89,"ayw":-94},{"f":390,"ax":-96,"ay":-85,"ayw":-96},{"f":395,"ax":-90,"ay":-81,"ayw":-91},
{"f":400,"ax":-43,"ay":-43,"ayw":-57},{"f":405,"ax":-91,"ay":-82,"ayw":-92},{"f":410,"ax":-97,"ay":-86,"ayw":-98},{"f":415,"ax":-95,"ay":-90,"ayw":-96},{"f":420,"ax":-101,"ay":-89,"ayw":-102},{"f":425,"ax":-99,"ay":-92,"ayw":-100},{"f":430,"ax":-104,"ay":-91,"ayw":-105},{"f":435,"ax":-101,"ay":-94,"ayw":-102},{"f":440,"ax":-106,"ay":-92,"ayw":-107},{"f":445,"ax":-102,"ay":-95,"ayw":-104},
{"f":450,"ax":-107,"ay":-93,"ayw":-108},{"f":455,"ax":-103,"ay":-96,"ayw":-105},{"f":460,"ax":-108,"ay":-94,"ayw":-110},{"f":465,"ax":-104,"ay":-97,"ayw":-106},{"f":470,"ax":-109,"ay":-95,"ayw":-111},{"f":475,"ax":-104,"ay":-98,"ayw":-107},{"f":480,"ax":-108,"ay":-95,"ayw":-110},{"f":485,"ax":-103,"ay":-98,"ayw":-107},{"f":490,"ax":-109,"ay":-96,"ayw":-111},{"f":495,"ax":-104,"ay":-99,"ayw":-108},
{"f":500,"ax":-108,"ay":-96,"ayw":-111},{"f":505,"ax":-103,"ay":-99,"ayw":-107},{"f":510,"ax":-109,"ay":-97,"ayw":-112},{"f":515,"ax":-104,"ay":-99,"ayw":-108},{"f":520,"ax":-108,"ay":-96,"ayw":-111},{"f":525,"ax":-103,"ay":-99,"ayw":-107},{"f":530,"ax":-109,"ay":-97,"ayw":-112},{"f":535,"ax":-104,"ay":-99,"ayw":-95},{"f":540,"ax":-108,"ay":-96,"ayw":-111},{"f":545,"ax":-103,"ay":-98,"ayw":-107},
{"f":550,"ax":-109,"ay":-96,"ayw":-112},{"f":555,"ax":-104,"ay":-99,"ayw":-108},{"f":560,"ax":-108,"ay":-97,"ayw":-111},{"f":565,"ax":-103,"ay":-99,"ayw":-107},{"f":570,"ax":-107,"ay":-96,"ayw":-110},{"f":575,"ax":-102,"ay":-98,"ayw":-106},{"f":580,"ax":-105,"ay":-95,"ayw":-109},{"f":585,"ax":-100,"ay":-97,"ayw":-105},{"f":590,"ax":-102,"ay":-94,"ayw":-107},{"f":595,"ax":-97,"ay":-93,"ayw":-102},
{"f":600,"ax":-51,"ay":-57,"ayw":-73},{"f":605,"ax":-98,"ay":-93,"ayw":-103},{"f":610,"ax":-103,"ay":-95,"ayw":-108},{"f":615,"ax":-101,"ay":-98,"ayw":-106},{"f":620,"ax":-107,"ay":-96,"ayw":-110},{"f":625,"ax":-104,"ay":-99,"ayw":-107},{"f":630,"ax":-109,"ay":-97,"ayw":-111},{"f":635,"ax":-105,"ay":-100,"ayw":-108},{"f":640,"ax":-110,"ay":-97,"ayw":-112},{"f":645,"ax":-105,"ay":-100,"ayw":-108},
{"f":650,"ax":-109,"ay":-98,"ayw":-111},{"f":655,"ax":-104,"ay":-100,"ayw":-107},{"f":660,"ax":-110,"ay":-97,"ayw":-101},{"f":665,"ax":-105,"ay":-100,"ayw":-108},{"f":670,"ax":-109,"ay":-98,"ayw":-112},{"f":675,"ax":-104,"ay":-100,"ayw":-108},{"f":680,"ax":-110,"ay":-97,"ayw":-111},{"f":685,"ax":-105,"ay":-100,"ayw":-107},{"f":690,"ax":-109,"ay":-98,"ayw":-112},{"f":695,"ax":-104,"ay":-100,"ayw":-108},
{"f":700,"ax":-109,"ay":-97,"ayw":-111},{"f":705,"ax":-104,"ay":-99,"ayw":-107},{"f":710,"ax":-108,"ay":-97,"ayw":-112},{"f":715,"ax":-103,"ay":-99,"ayw":-108},{"f":720,"ax":-108,"ay":-96,"ayw":-111},{"f":725,"ax":-103,"ay":-99,"ayw":-107},{"f":730,"ax":-107,"ay":-96,"ayw":-110},{"f":735,"ax":-102,"ay":-98,"ayw":-106},{"f":740,"ax":-106,"ay":-95,"ayw":-110},{"f":745,"ax":-101,"ay":-97,"ayw":-106},
{"f":750,"ax":-105,"ay":-94,"ayw":-109},{"f":755,"ax":-100,"ay":-96,"ayw":-105},{"f":760,"ax":-83,"ay":-93,"ayw":-108},{"f":765,"ax":-99,"ay":-95,"ayw":-104},{"f":770,"ax":-101,"ay":-92,"ayw":-106},{"f":775,"ax":-96,"ay":-93,"ayw":-102},{"f":780,"ax":-98,"ay":-89,"ayw":-103},{"f":785,"ax":-93,"ay":-88,"ayw":-99},{"f":790,"ax":-94,"ay":-85,"ayw":-99},{"f":795,"ax":-88,"ay":-80,"ayw":-95},
{"f":800,"ax":-45,"ay":-46,"ayw":-67},{"f":805,"ax":-87,"ay":-80,"ayw":-95},{"f":810,"ax":-93,"ay":-86,"ayw":-100},{"f":815,"ax":-94,"ay":-90,"ayw":-103},{"f":820,"ax":-99,"ay":-91,"ayw":-106},{"f":825,"ax":-96,"ay":-94,"ayw":-104},{"f":830,"ax":-101,"ay":-93,"ayw":-108},{"f":835,"ax":-97,"ay":-96,"ayw":-105},{"f":840,"ax":-102,"ay":-94,"ayw":-109},{"f":845,"ax":-97,"ay":-97,"ayw":-106},
{"f":850,"ax":-101,"ay":-94,"ayw":-110},{"f":855,"ax":-96,"ay":-97,"ayw":-106},{"f":860,"ax":-86,"ay":-95,"ayw":-109},{"f":865,"ax":-97,"ay":-98,"ayw":-106},{"f":870,"ax":-101,"ay":-95,"ayw":-110},{"f":875,"ax":-86,"ay":-97,"ayw":-106},{"f":880,"ax":-100,"ay":-95,"ayw":-109},{"f":885,"ax":-96,"ay":-98,"ayw":-105},{"f":890,"ax":-101,"ay":-95,"ayw":-110},{"f":895,"ax":-96,"ay":-98,"ayw":-106},
{"f":900,"ax":-100,"ay":-95,"ayw":-109},{"f":905,"ax":-95,"ay":-97,"ayw":-105},{"f":910,"ax":-100,"ay":-94,"ayw":-110},{"f":915,"ax":-95,"ay":-97,"ayw":-106},{"f":920,"ax":-99,"ay":-95,"ayw":-109},{"f":925,"ax":-95,"ay":-98,"ayw":-105},{"f":930,"ax":-100,"ay":-94,"ayw":-110},{"f":935,"ax":-95,"ay":-97,"ayw":-106},{"f":940,"ax":-99,"ay":-95,"ayw":-109},{"f":945,"ax":-94,"ay":-97,"ayw":-105},
{"f":950,"ax":-99,"ay":-94,"ayw":-109},{"f":955,"ax":-95,"ay":-96,"ayw":-105},{"f":960,"ax":-79,"ay":-77,"ayw":-108},{"f":965,"ax":-95,"ay":-96,"ayw":-104},{"f":970,"ax":-98,"ay":-93,"ayw":-106},{"f":975,"ax":-94,"ay":-95,"ayw":-103},{"f":980,"ax":-96,"ay":-92,"ayw":-105},{"f":985,"ax":-92,"ay":-93,"ayw":-101},{"f":990,"ax":-93,"ay":-90,"ayw":-102},{"f":995,"ax":-89,"ay":-87,"ayw":-98},
{"f":1000,"ax":-53,"ay":-56,"ayw":-55},{"f":1005,"ax":-90,"ay":-88,"ayw":-98},{"f":1010,"ax":-94,"ay":-91,"ayw":-103},{"f":1015,"ax":-95,"ay":-94,"ayw":-105},{"f":1020,"ax":-99,"ay":-93,"ayw":-108},{"f":1025,"ax":-97,"ay":-96,"ayw":-106},{"f":1030,"ax":-102,"ay":-94,"ayw":-110},{"f":1035,"ax":-78,"ay":-97,"ayw":-106},{"f":1040,"ax":-101,"ay":-95,"ayw":-110},{"f":1045,"ax":-98,"ay":-98,"ayw":-106},
{"f":1050,"ax":-103,"ay":-95,"ayw":-111},{"f":1055,"ax":-99,"ay":-97,"ayw":-107},{"f":1060,"ax":-88,"ay":-95,"ayw":-110},{"f":1065,"ax":-98,"ay":-98,"ayw":-106},{"f":1070,"ax":-103,"ay":-95,"ayw":-111},{"f":1075,"ax":-98,"ay":-97,"ayw":-107},{"f":1080,"ax":-102,"ay":-94,"ayw":-110},{"f":1085,"ax":-97,"ay":-97,"ayw":-106},{"f":1090,"ax":-101,"ay":-95,"ayw":-110},{"f":1095,"ax":-96,"ay":-97,"ayw":-106},
{"f":1100,"ax":-100,"ay":-94,"ayw":-109},{"f":1105,"ax":-96,"ay":-97,"ayw":-105},{"f":1110,"ax":-100,"ay":-95,"ayw":-110},{"f":1115,"ax":-95,"ay":-97,"ayw":-106},{"f":1120,"ax":-99,"ay":-83,"ayw":-109},{"f":1125,"ax":-95,"ay":-97,"ayw":-105},{"f":1130,"ax":-99,"ay":-94,"ayw":-109},{"f":1135,"ax":-95,"ay":-96,"ayw":-105},{"f":1140,"ax":-83,"ay":-94,"ayw":-108},{"f":1145,"ax":-94,"ay":-96,"ayw":-104},
{"f":1150,"ax":-98,"ay":-93,"ayw":-107},{"f":1155,"ax":-69,"ay":-67,"ayw":-103},{"f":1160,"ax":-96,"ay":-68,"ayw":-107},{"f":1165,"ax":-93,"ay":-94,"ayw":-104},{"f":1170,"ax":-97,"ay":-92,"ayw":-107},{"f":1175,"ax":-93,"ay":-94,"ayw":-103},{"f":1180,"ax":-96,"ay":-91,"ayw":-105},{"f":1185,"ax":-92,"ay":-92,"ayw":-102},{"f":1190,"ax":-94,"ay":-83,"ayw":-103},{"f":1195,"ax":-90,"ay":-86,"ayw":-100},
{"f":1200,"ax":-66,"ay":-63,"ayw":-70},{"f":1205,"ax":-90,"ay":-86,"ayw":-100},{"f":1210,"ax":-94,"ay":-90,"ayw":-104},{"f":1215,"ax":-95,"ay":-93,"ayw":-106},{"f":1220,"ax":-98,"ay":-92,"ayw":-108},{"f":1225,"ax":-96,"ay":-95,"ayw":-106},{"f":1230,"ax":-100,"ay":-93,"ayw":-110},{"f":1235,"ax":-75,"ay":-96,"ayw":-106},{"f":1240,"ax":-100,"ay":-94,"ayw":-110},{"f":1245,"ax":-97,"ay":-97,"ayw":-106},
{"f":1250,"ax":-101,"ay":-95,"ayw":-111},{"f":1255,"ax":-98,"ay":-97,"ayw":-107},{"f":1260,"ax":-84,"ay":-95,"ayw":-110},{"f":1265,"ax":-99,"ay":-98,"ayw":-106},{"f":1270,"ax":-103,"ay":-95,"ayw":-111},{"f":1275,"ax":-99,"ay":-97,"ayw":-107},{"f":1280,"ax":-103,"ay":-95,"ayw":-110},{"f":1285,"ax":-99,"ay":-98,"ayw":-106},{"f":1290,"ax":-104,"ay":-95,"ayw":-111},{"f":1295,"ax":-100,"ay":-97,"ayw":-107},
{"f":1300,"ax":-104,"ay":-95,"ayw":-110},{"f":1305,"ax":-100,"ay":-98,"ayw":-106},{"f":1310,"ax":-104,"ay":-95,"ayw":-110},{"f":1315,"ax":-100,"ay":-97,"ayw":-106},{"f":1320,"ax":-90,"ay":-94,"ayw":-109},{"f":1325,"ax":-99,"ay":-97,"ayw":-105},{"f":1330,"ax":-102,"ay":-94,"ayw":-109},{"f":1335,"ax":-98,"ay":-96,"ayw":-105},{"f":1340,"ax":-101,"ay":-94,"ayw":-108},{"f":1345,"ax":-97,"ay":-96,"ayw":-104},
{"f":1350,"ax":-100,"ay":-93,"ayw":-107},{"f":1355,"ax":-68,"ay":-94,"ayw":-103},{"f":1360,"ax":-99,"ay":-92,"ayw":-106},{"f":1365,"ax":-96,"ay":-80,"ayw":-102},{"f":1370,"ax":-99,"ay":-92,"ayw":-105},{"f":1375,"ax":-95,"ay":-93,"ayw":-101},{"f":1380,"ax":-97,"ay":-90,"ayw":-103},{"f":1385,"ax":-93,"ay":-90,"ayw":-100},{"f":1390,"ax":-94,"ay":-88,"ayw":-100},{"f":1395,"ax":-91,"ay":-85,"ayw":-97},
{"f":1400,"ax":-66,"ay":-61,"ayw":-63},{"f":1405,"ax":-91,"ay":-85,"ayw":-97},{"f":1410,"ax":-95,"ay":-89,"ayw":-101},{"f":1415,"ax":-96,"ay":-92,"ayw":-104},{"f":1420,"ax":-100,"ay":-91,"ayw":-107},{"f":1425,"ax":-97,"ay":-94,"ayw":-105},{"f":1430,"ax":-101,"ay":-93,"ayw":-109},{"f":1435,"ax":-97,"ay":-95,"ayw":-106},{"f":1440,"ax":-100,"ay":-66,"ayw":-110},{"f":1445,"ax":-96,"ay":-95,"ayw":-106},
{"f":1450,"ax":-100,"ay":-93,"ayw":-110},{"f":1455,"ax":-96,"ay":-96,"ayw":-106},{"f":1460,"ax":-101,"ay":-94,"ayw":-110},{"f":1465,"ax":-96,"ay":-96,"ayw":-106},{"f":1470,"ax":-90,"ay":-93,"ayw":-109},{"f":1475,"ax":-96,"ay":-96,"ayw":-105},{"f":1480,"ax":-100,"ay":-94,"ayw":-109},{"f":1485,"ax":-96,"ay":-96,"ayw":-105},{"f":1490,"ax":-100,"ay":-93,"ayw":-109},{"f":1495,"ax":-96,"ay":-95,"ayw":-105},
{"f":1500,"ax":-99,"ay":-94,"ayw":-108}
],
"sd":[
{"f":0,"ax":-84,"ay":-75,"ayw":-36},{"f":5,"ax":-92,"ay":-80,"ayw":-78},{"f":10,"ax":-97,"ay":-84,"ayw":-86},{"f":15,"ax":-99,"ay":-83,"ayw":-89},{"f":20,"ax":-103,"ay":-87,"ayw":-92},{"f":25,"ax":-100,"ay":-85,"ayw":-91},{"f":30,"ax":-105,"ay":-88,"ayw":-95},{"f":35,"ax":-102,"ay":-86,"ayw":-93},{"f":40,"ax":-107,"ay":-89,"ayw":-96},{"f":45,"ax":-103,"ay":-87,"ayw":-94},
{"f":50,"ax":-107,"ay":-90,"ayw":-97},{"f":55,"ax":-103,"ay":-88,"ayw":-88},{"f":60,"ax":-106,"ay":-90,"ayw":-99},{"f":65,"ax":-102,"ay":-88,"ayw":-97},{"f":70,"ax":-107,"ay":-91,"ayw":-100},{"f":75,"ax":-103,"ay":-88,"ayw":-98},{"f":80,"ax":-106,"ay":-91,"ayw":-101},{"f":85,"ax":-102,"ay":-89,"ayw":-99},{"f":90,"ax":-81,"ay":-91,"ayw":-102},{"f":95,"ax":-103,"ay":-89,"ayw":-99},
{"f":100,"ax":-107,"ay":-91,"ayw":-102},{"f":105,"ax":-103,"ay":-88,"ayw":-99},{"f":110,"ax":-107,"ay":-91,"ayw":-103},{"f":115,"ax":-102,"ay":-88,"ayw":-100},{"f":120,"ax":-106,"ay":-91,"ayw":-103},{"f":125,"ax":-102,"ay":-88,"ayw":-100},{"f":130,"ax":-107,"ay":-90,"ayw":-104},{"f":135,"ax":-103,"ay":-87,"ayw":-101},{"f":140,"ax":-82,"ay":-90,"ayw":-104},{"f":145,"ax":-102,"ay":-87,"ayw":-101},
{"f":150,"ax":-106,"ay":-89,"ayw":-104},{"f":155,"ax":-102,"ay":-86,"ayw":-101},{"f":160,"ax":-105,"ay":-87,"ayw":-103},{"f":165,"ax":-101,"ay":-84,"ayw":-100},{"f":170,"ax":-104,"ay":-85,"ayw":-102},{"f":175,"ax":-99,"ay":-81,"ayw":-99},{"f":180,"ax":-102,"ay":-82,"ayw":-101},{"f":185,"ax":-97,"ay":-78,"ayw":-98},{"f":190,"ax":-99,"ay":-77,"ayw":-99},{"f":195,"ax":-93,"ay":-71,"ayw":-93},
{"f":200,"ax":-35,"ay":-34,"ayw":-64},{"f":205,"ax":-93,"ay":-71,"ayw":-93},{"f":210,"ax":-98,"ay":-77,"ayw":-99},{"f":215,"ax":-96,"ay":-79,"ayw":-97},{"f":220,"ax":-101,"ay":-83,"ayw":-101},{"f":225,"ax":-97,"ay":-82,"ayw":-99},{"f":230,"ax":-101,"ay":-86,"ayw":-102},{"f":235,"ax":-97,"ay":-85,"ayw":-100},{"f":240,"ax":-101,"ay":-88,"ayw":-103},{"f":245,"ax":-97,"ay":-87,"ayw":-100},
{"f":250,"ax":-101,"ay":-89,"ayw":-103},{"f":255,"ax":-97,"ay":-88,"ayw":-100},{"f":260,"ax":-101,"ay":-90,"ayw":-103},{"f":265,"ax":-97,"ay":-89,"ayw":-100},{"f":270,"ax":-102,"ay":-91,"ayw":-104},{"f":275,"ax":-97,"ay":-89,"ayw":-100},{"f":280,"ax":-101,"ay":-91,"ayw":-103},{"f":285,"ax":-97,"ay":-89,"ayw":-100},{"f":290,"ax":-101,"ay":-92,"ayw":-103},{"f":295,"ax":-97,"ay":-90,"ayw":-99},
{"f":300,"ax":-101,"ay":-92,"ayw":-89},{"f":305,"ax":-97,"ay":-90,"ayw":-100},{"f":310,"ax":-101,"ay":-92,"ayw":-103},{"f":315,"ax":-97,"ay":-89,"ayw":-99},{"f":320,"ax":-100,"ay":-91,"ayw":-102},{"f":325,"ax":-96,"ay":-88,"ayw":-98},{"f":330,"ax":-100,"ay":-89,"ayw":-101},{"f":335,"ax":-96,"ay":-86,"ayw":-98},{"f":340,"ax":-99,"ay":-87,"ayw":-100},{"f":345,"ax":-95,"ay":-84,"ayw":-97},
{"f":350,"ax":-98,"ay":-85,"ayw":-99},{"f":355,"ax":-94,"ay":-82,"ayw":-96},{"f":360,"ax":-97,"ay":-82,"ayw":-98},{"f":365,"ax":-93,"ay":-79,"ayw":-95},{"f":370,"ax":-96,"ay":-80,"ayw":-96},{"f":375,"ax":-92,"ay":-76,"ayw":-93},{"f":380,"ax":-94,"ay":-78,"ayw":-94},{"f":385,"ax":-90,"ay":-74,"ayw":-91},{"f":390,"ax":-92,"ay":-75,"ayw":-92},{"f":395,"ax":-88,"ay":-70,"ayw":-88},
{"f":400,"ax":-37,"ay":-34,"ayw":-48},{"f":405,"ax":-88,"ay":-70,"ayw":-88},{"f":410,"ax":-93,"ay":-78,"ayw":-94},{"f":415,"ax":-94,"ay":-82,"ayw":-97},{"f":420,"ax":-98,"ay":-86,"ayw":-100},{"f":425,"ax":-97,"ay":-88,"ayw":-100},{"f":430,"ax":-100,"ay":-90,"ayw":-103},{"f":435,"ax":-98,"ay":-91,"ayw":-102},{"f":440,"ax":-101,"ay":-93,"ayw":-105},{"f":445,"ax":-99,"ay":-93,"ayw":-104},
{"f":450,"ax":-102,"ay":-95,"ayw":-107},{"f":455,"ax":-98,"ay":-94,"ayw":-105},{"f":460,"ax":-78,"ay":-96,"ayw":-108},{"f":465,"ax":-99,"ay":-95,"ayw":-106},{"f":470,"ax":-103,"ay":-97,"ayw":-110},{"f":475,"ax":-99,"ay":-95,"ayw":-107},{"f":480,"ax":-103,"ay":-97,"ayw":-110},{"f":485,"ax":-99,"ay":-95,"ayw":-107},{"f":490,"ax":-104,"ay":-98,"ayw":-111},{"f":495,"ax":-100,"ay":-96,"ayw":-108},
{"f":500,"ax":-104,"ay":-98,"ayw":-111},{"f":505,"ax":-100,"ay":-96,"ayw":-108},{"f":510,"ax":-105,"ay":-99,"ayw":-112},{"f":515,"ax":-101,"ay":-96,"ayw":-108},{"f":520,"ax":-88,"ay":-98,"ayw":-111},{"f":525,"ax":-101,"ay":-96,"ayw":-108},{"f":530,"ax":-105,"ay":-99,"ayw":-112},{"f":535,"ax":-77,"ay":-96,"ayw":-108},{"f":540,"ax":-105,"ay":-98,"ayw":-111},{"f":545,"ax":-101,"ay":-96,"ayw":-108},
{"f":550,"ax":-104,"ay":-99,"ayw":-112},{"f":555,"ax":-100,"ay":-96,"ayw":-108},{"f":560,"ax":-90,"ay":-98,"ayw":-111},{"f":565,"ax":-100,"ay":-96,"ayw":-107},{"f":570,"ax":-104,"ay":-98,"ayw":-110},{"f":575,"ax":-100,"ay":-95,"ayw":-106},{"f":580,"ax":-103,"ay":-97,"ayw":-109},{"f":585,"ax":-99,"ay":-94,"ayw":-105},{"f":590,"ax":-100,"ay":-95,"ayw":-106},{"f":595,"ax":-96,"ay":-92,"ayw":-102},
{"f":600,"ax":-52,"ay":-52,"ayw":-69},{"f":605,"ax":-96,"ay":-92,"ayw":-102},{"f":610,"ax":-101,"ay":-96,"ayw":-107},{"f":615,"ax":-100,"ay":-96,"ayw":-107},{"f":620,"ax":-104,"ay":-98,"ayw":-111},{"f":625,"ax":-101,"ay":-96,"ayw":-108},{"f":630,"ax":-105,"ay":-99,"ayw":-112},{"f":635,"ax":-101,"ay":-96,"ayw":-108},{"f":640,"ax":-104,"ay":-98,"ayw":-111},{"f":645,"ax":-100,"ay":-96,"ayw":-108},
{"f":650,"ax":-104,"ay":-99,"ayw":-112},{"f":655,"ax":-100,"ay":-96,"ayw":-108},{"f":660,"ax":-104,"ay":-98,"ayw":-111},{"f":665,"ax":-100,"ay":-95,"ayw":-108},{"f":670,"ax":-104,"ay":-98,"ayw":-112},{"f":675,"ax":-100,"ay":-95,"ayw":-108},{"f":680,"ax":-103,"ay":-97,"ayw":-111},{"f":685,"ax":-99,"ay":-95,"ayw":-107},{"f":690,"ax":-103,"ay":-97,"ayw":-110},{"f":695,"ax":-99,"ay":-94,"ayw":-107},
{"f":700,"ax":-102,"ay":-96,"ayw":-110},{"f":705,"ax":-98,"ay":-94,"ayw":-106},{"f":710,"ax":-102,"ay":-96,"ayw":-109},{"f":715,"ax":-98,"ay":-93,"ayw":-105},{"f":720,"ax":-101,"ay":-95,"ayw":-108},{"f":725,"ax":-97,"ay":-92,"ayw":-104},{"f":730,"ax":-100,"ay":-94,"ayw":-107},{"f":735,"ax":-96,"ay":-83,"ayw":-103},{"f":740,"ax":-99,"ay":-92,"ayw":-106},{"f":745,"ax":-95,"ay":-90,"ayw":-102},
{"f":750,"ax":-97,"ay":-91,"ayw":-104},{"f":755,"ax":-74,"ay":-88,"ayw":-101},{"f":760,"ax":-95,"ay":-89,"ayw":-103},{"f":765,"ax":-91,"ay":-86,"ayw":-99},{"f":770,"ax":-93,"ay":-87,"ayw":-100},{"f":775,"ax":-89,"ay":-84,"ayw":-97},{"f":780,"ax":-91,"ay":-84,"ayw":-98},{"f":785,"ax":-87,"ay":-81,"ayw":-95},{"f":790,"ax":-88,"ay":-80,"ayw":-96},{"f":795,"ax":-83,"ay":-76,"ayw":-92},
{"f":800,"ax":-36,"ay":-36,"ayw":-60},{"f":805,"ax":-83,"ay":-76,"ayw":-92},{"f":810,"ax":-88,"ay":-81,"ayw":-97},{"f":815,"ax":-89,"ay":-84,"ayw":-100},{"f":820,"ax":-92,"ay":-86,"ayw":-103},{"f":825,"ax":-90,"ay":-88,"ayw":-102},{"f":830,"ax":-94,"ay":-89,"ayw":-105},{"f":835,"ax":-91,"ay":-83,"ayw":-104},{"f":840,"ax":-95,"ay":-91,"ayw":-107},{"f":845,"ax":-91,"ay":-92,"ayw":-105},
{"f":850,"ax":-95,"ay":-93,"ayw":-108},{"f":855,"ax":-91,"ay":-92,"ayw":-106},{"f":860,"ax":-75,"ay":-94,"ayw":-109},{"f":865,"ax":-92,"ay":-93,"ayw":-106},{"f":870,"ax":-96,"ay":-95,"ayw":-110},{"f":875,"ax":-92,"ay":-93,"ayw":-106},{"f":880,"ax":-96,"ay":-95,"ayw":-109},{"f":885,"ax":-82,"ay":-93,"ayw":-106},{"f":890,"ax":-95,"ay":-95,"ayw":-110},{"f":895,"ax":-92,"ay":-93,"ayw":-106},
{"f":900,"ax":-96,"ay":-96,"ayw":-109},{"f":905,"ax":-92,"ay":-94,"ayw":-105},{"f":910,"ax":-95,"ay":-96,"ayw":-109},{"f":915,"ax":-91,"ay":-81,"ayw":-105},{"f":920,"ax":-95,"ay":-96,"ayw":-108},{"f":925,"ax":-91,"ay":-94,"ayw":-104},{"f":930,"ax":-94,"ay":-95,"ayw":-107},{"f":935,"ax":-76,"ay":-93,"ayw":-103},{"f":940,"ax":-93,"ay":-94,"ayw":-106},{"f":945,"ax":-90,"ay":-92,"ayw":-102},
{"f":950,"ax":-92,"ay":-93,"ayw":-105},{"f":955,"ax":-88,"ay":-91,"ayw":-101},{"f":960,"ax":-90,"ay":-76,"ayw":-103},{"f":965,"ax":-86,"ay":-89,"ayw":-99},{"f":970,"ax":-89,"ay":-90,"ayw":-101},{"f":975,"ax":-85,"ay":-88,"ayw":-98},{"f":980,"ax":-87,"ay":-88,"ayw":-99},{"f":985,"ax":-83,"ay":-86,"ayw":-96},{"f":990,"ax":-84,"ay":-86,"ayw":-97},{"f":995,"ax":-80,"ay":-83,"ayw":-93},
{"f":1000,"ax":-45,"ay":-47,"ayw":-51},{"f":1005,"ax":-80,"ay":-83,"ayw":-93},{"f":1010,"ax":-85,"ay":-87,"ayw":-98},{"f":1015,"ax":-87,"ay":-90,"ayw":-101},{"f":1020,"ax":-90,"ay":-92,"ayw":-104},{"f":1025,"ax":-89,"ay":-93,"ayw":-103},{"f":1030,"ax":-92,"ay":-95,"ayw":-107},{"f":1035,"ax":-76,"ay":-94,"ayw":-105},{"f":1040,"ax":-93,"ay":-97,"ayw":-108},{"f":1045,"ax":-91,"ay":-95,"ayw":-106},
{"f":1050,"ax":-94,"ay":-97,"ayw":-109},{"f":1055,"ax":-91,"ay":-95,"ayw":-106},{"f":1060,"ax":-82,"ay":-97,"ayw":-109},{"f":1065,"ax":-91,"ay":-95,"ayw":-106},{"f":1070,"ax":-95,"ay":-98,"ayw":-110},{"f":1075,"ax":-91,"ay":-96,"ayw":-106},{"f":1080,"ax":-95,"ay":-98,"ayw":-109},{"f":1085,"ax":-91,"ay":-96,"ayw":-106},{"f":1090,"ax":-95,"ay":-98,"ayw":-110},{"f":1095,"ax":-92,"ay":-96,"ayw":-106},
{"f":1100,"ax":-96,"ay":-98,"ayw":-109},{"f":1105,"ax":-92,"ay":-96,"ayw":-105},{"f":1110,"ax":-96,"ay":-97,"ayw":-109},{"f":1115,"ax":-92,"ay":-95,"ayw":-105},{"f":1120,"ax":-80,"ay":-97,"ayw":-108},{"f":1125,"ax":-92,"ay":-95,"ayw":-104},{"f":1130,"ax":-95,"ay":-96,"ayw":-107},{"f":1135,"ax":-91,"ay":-76,"ayw":-104},{"f":1140,"ax":-94,"ay":-95,"ayw":-106},{"f":1145,"ax":-90,"ay":-93,"ayw":-103},
{"f":1150,"ax":-93,"ay":-94,"ayw":-105},{"f":1155,"ax":-89,"ay":-59,"ayw":-102},{"f":1160,"ax":-92,"ay":-61,"ayw":-104},{"f":1165,"ax":-89,"ay":-91,"ayw":-101},{"f":1170,"ax":-91,"ay":-92,"ayw":-103},{"f":1175,"ax":-88,"ay":-90,"ayw":-100},{"f":1180,"ax":-90,"ay":-90,"ayw":-101},{"f":1185,"ax":-87,"ay":-89,"ayw":-99},{"f":1190,"ax":-88,"ay":-87,"ayw":-99},{"f":1195,"ax":-84,"ay":-84,"ayw":-96},
{"f":1200,"ax":-54,"ay":-55,"ayw":-65},{"f":1205,"ax":-84,"ay":-84,"ayw":-96},{"f":1210,"ax":-89,"ay":-88,"ayw":-100},{"f":1215,"ax":-91,"ay":-91,"ayw":-103},{"f":1220,"ax":-94,"ay":-93,"ayw":-106},{"f":1225,"ax":-93,"ay":-94,"ayw":-105},{"f":1230,"ax":-96,"ay":-96,"ayw":-108},{"f":1235,"ax":-74,"ay":-95,"ayw":-106},{"f":1240,"ax":-97,"ay":-97,"ayw":-109},{"f":1245,"ax":-94,"ay":-95,"ayw":-106},
{"f":1250,"ax":-97,"ay":-97,"ayw":-109},{"f":1255,"ax":-94,"ay":-95,"ayw":-106},{"f":1260,"ax":-81,"ay":-97,"ayw":-110},{"f":1265,"ax":-94,"ay":-95,"ayw":-106},{"f":1270,"ax":-98,"ay":-97,"ayw":-110},{"f":1275,"ax":-94,"ay":-95,"ayw":-106},{"f":1280,"ax":-98,"ay":-97,"ayw":-109},{"f":1285,"ax":-94,"ay":-95,"ayw":-105},{"f":1290,"ax":-97,"ay":-96,"ayw":-109},{"f":1295,"ax":-93,"ay":-94,"ayw":-105},
{"f":1300,"ax":-97,"ay":-96,"ayw":-108},{"f":1305,"ax":-93,"ay":-94,"ayw":-105},{"f":1310,"ax":-97,"ay":-96,"ayw":-108},{"f":1315,"ax":-93,"ay":-94,"ayw":-104},{"f":1320,"ax":-96,"ay":-95,"ayw":-107},{"f":1325,"ax":-93,"ay":-93,"ayw":-104},{"f":1330,"ax":-96,"ay":-87,"ayw":-107},{"f":1335,"ax":-92,"ay":-93,"ayw":-103},{"f":1340,"ax":-96,"ay":-94,"ayw":-106},{"f":1345,"ax":-92,"ay":-92,"ayw":-103},
{"f":1350,"ax":-95,"ay":-93,"ayw":-105},{"f":1355,"ax":-65,"ay":-92,"ayw":-102},{"f":1360,"ax":-94,"ay":-92,"ayw":-104},{"f":1365,"ax":-90,"ay":-90,"ayw":-101},{"f":1370,"ax":-93,"ay":-91,"ayw":-103},{"f":1375,"ax":-89,"ay":-89,"ayw":-100},{"f":1380,"ax":-91,"ay":-89,"ayw":-101},{"f":1385,"ax":-88,"ay":-87,"ayw":-99},{"f":1390,"ax":-89,"ay":-86,"ayw":-99},{"f":1395,"ax":-85,"ay":-83,"ayw":-96},
{"f":1400,"ax":-55,"ay":-60,"ayw":-64},{"f":1405,"ax":-85,"ay":-83,"ayw":-96},{"f":1410,"ax":-89,"ay":-87,"ayw":-100},{"f":1415,"ax":-91,"ay":-90,"ayw":-102},{"f":1420,"ax":-94,"ay":-92,"ayw":-105},{"f":1425,"ax":-93,"ay":-93,"ayw":-104},{"f":1430,"ax":-96,"ay":-95,"ayw":-107},{"f":1435,"ax":-93,"ay":-94,"ayw":-105},{"f":1440,"ax":-97,"ay":-66,"ayw":-108},{"f":1445,"ax":-94,"ay":-95,"ayw":-105},
{"f":1450,"ax":-97,"ay":-96,"ayw":-108},{"f":1455,"ax":-94,"ay":-94,"ayw":-105},{"f":1460,"ax":-98,"ay":-81,"ayw":-108},{"f":1465,"ax":-95,"ay":-95,"ayw":-105},{"f":1470,"ax":-84,"ay":-96,"ayw":-108},{"f":1475,"ax":-95,"ay":-94,"ayw":-104},{"f":1480,"ax":-98,"ay":-96,"ayw":-107},{"f":1485,"ax":-95,"ay":-94,"ayw":-104},{"f":1490,"ax":-98,"ay":-96,"ayw":-107},{"f":1495,"ax":-95,"ay":-94,"ayw":-104},
{"f":1500,"ax":-98,"ay":-95,"ayw":-106}
],
"ab":[
{"f":197,"top":-21,"tip":-29.6},{"f":400,"top":-29.5,"tip":-38.4},{"f":594,"top":-38.5,"tip":-47.6},{"f":726,"top":-20.5,"tip":-29.4},{"f":800,"top":-31,"tip":-39.4},{"f":998,"top":-40,"tip":-48.8},{"f":1196,"top":-50,"tip":-59.2},{"f":1395,"top":-50,"tip":-59.2}
],
"ad":[
{"f":197,"top":-22.4,"tip":-30.8},{"f":400,"top":-23,"tip":-31.2},{"f":594,"top":-38.4,"tip":-46.8},{"f":800,"top":-24.4,"tip":-32.4},{"f":998,"top":-33.6,"tip":-41.6},{"f":1196,"top":-43.6,"tip":-51.6},{"f":1395,"top":-43.6,"tip":-51.6}
]
},
"concat":[
{
"width":471,"height":253,
"title":{"text":"a)","offset":6},
"data":{"name":"ta"},
"layer":[
{"transform":[{"fold":["ax","ay","ayw"],"as":["series","value"]}],
"mark":{"type":"line","clip":true},
"encoding":{
"x":{"field":"t","type":"quantitative","scale":{"domain":[10,10.025],"nice":false,"zero":false},"axis":{"title":"Time [s]","values":[10,10.005,10.01,10.015,10.02,10.025],"labelExpr":"'' + datum.value","titlePadding":8}},
"y":{"field":"value","type":"quantitative","scale":{"domain":[-0.15,0.15],"nice":false,"zero":false},"axis":{"title":"Acceleration [g]","values":[-0.1,-0.05,0,0.05,0.1,0.15],"labelExpr":"'' + datum.value","titlePadding":7}},
"color":{"field":"series","type":"nominal","scale":{"domain":["ax","ay","ayw"],"range":["#0000ff","#ff0000","#10e010"]},"legend":{"title":null,"orient":"top-right","offset":8,"fillColor":"white","strokeColor":"#444","padding":8,"labelFontSize":17,"labelFont":"Liberation Sans","labelColor":"#111","symbolType":"M-1,0H2.5","symbolSize":576,"symbolStrokeWidth":2.5,"labelOffset":20,"rowPadding":1,"labelExpr":"datum.label == 'ax' ? 'Ax' : datum.label == 'ay' ? 'Ay' : 'Ay-w'"}},
"strokeDash":{"field":"series","type":"nominal","scale":{"domain":["ax","ay","ayw"],"range":[[1,0],[2,2],[6,3,2,3]]},"legend":{"title":null,"orient":"top-right","offset":8,"fillColor":"white","strokeColor":"#444","padding":8,"labelFontSize":17,"labelFont":"Liberation Sans","labelColor":"#111","symbolType":"M-1,0H2.5","symbolSize":576,"symbolStrokeWidth":2.5,"labelOffset":20,"rowPadding":1,"labelExpr":"datum.label == 'ax' ? 'Ax' : datum.label == 'ay' ? 'Ay' : 'Ay-w'"}},
"strokeWidth":{"field":"series","type":"ordinal","scale":{"domain":["ax","ay","ayw"],"range":[1.6,2,2.5]},"legend":null}
}},
{"data":{"values":[{"t":10.0006,"v":0.117,"label":"Stable 12000 rpm, 2 mm"}]},
"mark":{"type":"text","align":"left","baseline":"middle","font":"Lato","fontSize":18,"color":"#222"},
"encoding":{
"x":{"field":"t","type":"quantitative","scale":{"domain":[10,10.025],"nice":false,"zero":false},"axis":{"orient":"top","labels":false,"title":null,"values":[10,10.005,10.01,10.015,10.02,10.025]}},
"y":{"field":"v","type":"quantitative","scale":{"domain":[-0.15,0.15],"nice":false,"zero":false},"axis":{"orient":"right","labels":false,"title":null,"values":[-0.1,-0.05,0,0.05,0.1,0.15]}},
"text":{"field":"label"}
}}
],
"resolve":{"axis":{"x":"independent","y":"independent"}}
},
{
"width":471,"height":253,
"title":{"text":"b)","offset":9},
"data":{"name":"sb"},
"layer":[
{"transform":[{"fold":["ax","ay","ayw"],"as":["series","value"]}],
"mark":{"type":"line","clip":true},
"encoding":{
"x":{"field":"f","type":"quantitative","scale":{"domain":[0,1500],"nice":false},"axis":{"title":"Frequency [Hz]","values":[0,500,1000,1500],"labelExpr":"'' + datum.value","titlePadding":8}},
"y":{"field":"value","type":"quantitative","scale":{"domain":[-120,-20],"nice":false,"zero":false},"axis":{"title":"Power spectral density [dB]","values":[-120,-100,-80,-60,-40,-20],"labelExpr":"'' + datum.value","titlePadding":10}},
"color":{"field":"series","type":"nominal","scale":{"domain":["ax","ay","ayw"],"range":["#0000ff","#ff0000","#10e010"]},"legend":null},
"strokeDash":{"field":"series","type":"nominal","scale":{"domain":["ax","ay","ayw"],"range":[[1,0],[1.5,1.5],[5,2,1.5,2]]},"legend":null},
"strokeWidth":{"field":"series","type":"ordinal","scale":{"domain":["ax","ay","ayw"],"range":[2.4,2.8,3]},"legend":null}
}},
{"data":{"name":"ab"},
"mark":{"type":"rule","color":"black","strokeWidth":2},
"encoding":{
"x":{"field":"f","type":"quantitative","scale":{"domain":[0,1500],"nice":false},"axis":{"orient":"top","labels":false,"title":null,"values":[0,500,1000,1500]}},
"y":{"field":"top","type":"quantitative","scale":{"domain":[-120,-20],"nice":false,"zero":false},"axis":{"orient":"right","labels":false,"title":null,"values":[-120,-100,-80,-60,-40,-20]}},
"y2":{"field":"tip"}
}},
{"data":{"name":"ab"},
"mark":{"type":"point","shape":"triangle-down","filled":true,"color":"black","size":81,"opacity":1},
"encoding":{
"x":{"field":"f","type":"quantitative","scale":{"domain":[0,1500],"nice":false},"axis":null},
"y":{"field":"tip","type":"quantitative","scale":{"domain":[-120,-20],"nice":false,"zero":false},"axis":null}
}},
{"data":{"values":[{"f":755,"v":-27.2,"label":"Spindle frequency and harmonics"}]},
"mark":{"type":"text","align":"left","baseline":"middle","font":"Lato","fontSize":15.3,"color":"#222"},
"encoding":{
"x":{"field":"f","type":"quantitative","scale":{"domain":[0,1500],"nice":false},"axis":null},
"y":{"field":"v","type":"quantitative","scale":{"domain":[-120,-20],"nice":false,"zero":false},"axis":null},
"text":{"field":"label"}
}}
],
"resolve":{"axis":{"x":"independent","y":"independent"}}
},
{
"width":471,"height":253,
"title":{"text":"c)","offset":10},
"data":{"name":"tc"},
"layer":[
{"transform":[{"fold":["ax","ay","ayw"],"as":["series","value"]}],
"mark":{"type":"line","clip":true},
"encoding":{
"x":{"field":"t","type":"quantitative","scale":{"domain":[10,10.025],"nice":false,"zero":false},"axis":{"title":"Time [s]","values":[10,10.005,10.01,10.015,10.02,10.025],"labelExpr":"'' + datum.value","titlePadding":8}},
"y":{"field":"value","type":"quantitative","scale":{"domain":[-0.15,0.15],"nice":false,"zero":false},"axis":{"title":"Acceleration [g]","values":[-0.1,-0.05,0,0.05,0.1,0.15],"labelExpr":"'' + datum.value","titlePadding":7}},
"color":{"field":"series","type":"nominal","scale":{"domain":["ax","ay","ayw"],"range":["#0000ff","#ff0000","#10e010"]},"legend":null},
"strokeDash":{"field":"series","type":"nominal","scale":{"domain":["ax","ay","ayw"],"range":[[1,0],[2,2],[6,3,2,3]]},"legend":null},
"strokeWidth":{"field":"series","type":"ordinal","scale":{"domain":["ax","ay","ayw"],"range":[1.6,2,2.5]},"legend":null}
}},
{"data":{"values":[{"t":10.0006,"v":0.121,"label":"Stable 12000 rpm, 6 mm"}]},
"mark":{"type":"text","align":"left","baseline":"middle","font":"Lato","fontSize":18,"color":"#222"},
"encoding":{
"x":{"field":"t","type":"quantitative","scale":{"domain":[10,10.025],"nice":false,"zero":false},"axis":{"orient":"top","labels":false,"title":null,"values":[10,10.005,10.01,10.015,10.02,10.025]}},
"y":{"field":"v","type":"quantitative","scale":{"domain":[-0.15,0.15],"nice":false,"zero":false},"axis":{"orient":"right","labels":false,"title":null,"values":[-0.1,-0.05,0,0.05,0.1,0.15]}},
"text":{"field":"label"}
}}
],
"resolve":{"axis":{"x":"independent","y":"independent"}}
},
{
"width":471,"height":253,
"title":{"text":"d)","offset":0},
"data":{"name":"sd"},
"layer":[
{"transform":[{"fold":["ax","ay","ayw"],"as":["series","value"]}],
"mark":{"type":"line","clip":true},
"encoding":{
"x":{"field":"f","type":"quantitative","scale":{"domain":[0,1500],"nice":false},"axis":{"title":"Frequency [Hz]","values":[0,500,1000,1500],"labelExpr":"'' + datum.value","titlePadding":8}},
"y":{"field":"value","type":"quantitative","scale":{"domain":[-120,-20],"nice":false,"zero":false},"axis":{"title":"Power spectral density [dB]","values":[-120,-100,-80,-60,-40,-20],"labelExpr":"'' + datum.value","titlePadding":10}},
"color":{"field":"series","type":"nominal","scale":{"domain":["ax","ay","ayw"],"range":["#0000ff","#ff0000","#10e010"]},"legend":null},
"strokeDash":{"field":"series","type":"nominal","scale":{"domain":["ax","ay","ayw"],"range":[[1,0],[1.5,1.5],[5,2,1.5,2]]},"legend":null},
"strokeWidth":{"field":"series","type":"ordinal","scale":{"domain":["ax","ay","ayw"],"range":[2.4,2.8,3]},"legend":null}
}},
{"data":{"name":"ad"},
"mark":{"type":"rule","color":"black","strokeWidth":2},
"encoding":{
"x":{"field":"f","type":"quantitative","scale":{"domain":[0,1500],"nice":false},"axis":{"orient":"top","labels":false,"title":null,"values":[0,500,1000,1500]}},
"y":{"field":"top","type":"quantitative","scale":{"domain":[-120,-20],"nice":false,"zero":false},"axis":{"orient":"right","labels":false,"title":null,"values":[-120,-100,-80,-60,-40,-20]}},
"y2":{"field":"tip"}
}},
{"data":{"name":"ad"},
"mark":{"type":"point","shape":"triangle-down","filled":true,"color":"black","size":81,"opacity":1},
"encoding":{
"x":{"field":"f","type":"quantitative","scale":{"domain":[0,1500],"nice":false},"axis":null},
"y":{"field":"tip","type":"quantitative","scale":{"domain":[-120,-20],"nice":false,"zero":false},"axis":null}
}}
],
"resolve":{"axis":{"x":"independent","y":"independent"}}
}
],
"columns":2,
"spacing":{"row":100,"column":150},
"bounds":"flush",
"resolve":{"scale":{"color":"independent","strokeDash":"independent","strokeWidth":"independent"},"legend":{"color":"independent","strokeDash":"independent","strokeWidth":"independent"}}
}
